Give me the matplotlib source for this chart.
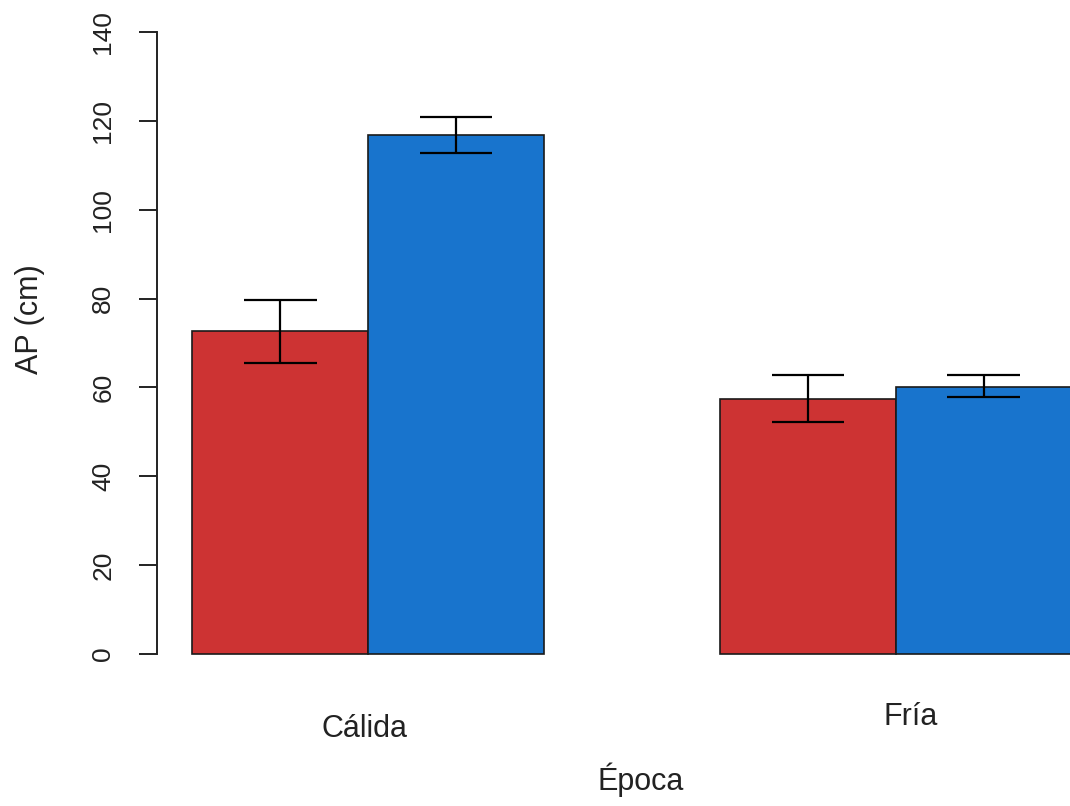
import matplotlib
matplotlib.use("Agg")
import matplotlib.pyplot as plt
import matplotlib.transforms as mtransforms
import numpy as np

# ---- data ----
seasons = ["Cálida", "Fría"]
series_colors = ["#CD3333", "#1874CD"]
means_red = [72.6, 57.5]
means_blue = [116.8, 60.2]
lower_red = [65.4, 52.2]
upper_red = [79.7, 62.8]
lower_blue = [112.7, 57.9]
upper_blue = [120.8, 62.8]
y_ticks = [0, 20, 40, 60, 80, 100, 120, 140]
x_title = "Época"
y_title = "AP (cm)"

plt.rcParams['font.family'] = ['Liberation Sans', 'DejaVu Sans']

W, H = 1070, 806
fig = plt.figure(figsize=(W / 100, H / 100), dpi=100)
# plot region in pixels: x 157..1107 (extends past the image), y 7..679
ax = fig.add_axes([157 / W, (H - 679) / H, 950 / W, 672 / H])
ax.set_xlim(0.8, 6.2)
ax.set_ylim(-5.6, 145.6)

# R barplot, beside=TRUE, space=c(0,1)
n = len(seasons)
left_red = np.array([1 + 3 * i for i in range(n)], dtype=float)
left_blue = left_red + 1
ax.bar(left_red, means_red, width=1, align='edge', color=series_colors[0],
       edgecolor='#1a1a1a', linewidth=1.2, zorder=2)
ax.bar(left_blue, means_blue, width=1, align='edge', color=series_colors[1],
       edgecolor='#1a1a1a', linewidth=1.2, zorder=2)

cap = 0.207
for xs, lo, hi in [(left_red + 0.5, lower_red, upper_red),
                   (left_blue + 0.5, lower_blue, upper_blue)]:
    for x, l, h in zip(xs, lo, hi):
        ax.plot([x, x], [l, h], color='black', lw=1.6, zorder=3, solid_capstyle='butt')
        ax.plot([x - cap, x + cap], [l, l], color='black', lw=1.6, zorder=3, solid_capstyle='butt')
        ax.plot([x - cap, x + cap], [h, h], color='black', lw=1.6, zorder=3, solid_capstyle='butt')

for s in ['top', 'right', 'bottom']:
    ax.spines[s].set_visible(False)
ax.spines['left'].set_bounds(y_ticks[0], y_ticks[-1])
ax.spines['left'].set_linewidth(1.4)
ax.spines['left'].set_color('#222222')
ax.set_yticks(y_ticks)
ax.set_yticklabels([str(t) for t in y_ticks], rotation=90, va='center',
                   fontsize=19, color='#222222')
ax.tick_params(axis='y', length=13, width=1.4, pad=17, color='#222222')
ax.set_xticks([])

# category labels under groups
centers = left_red + 1
label_offsets = [(-4, -58), (15, -46)]  # pixel offsets (x, baseline y below axes bottom)
for c, lab, (dx, dy) in zip(centers, seasons, label_offsets):
    tr = mtransforms.offset_copy(
        mtransforms.blended_transform_factory(ax.transData, ax.transAxes),
        fig=fig, x=dx, y=dy, units='dots')
    ax.text(c, 0, lab, transform=tr, ha='center', va='baseline', fontsize=22,
            color='#222222')

fig.text(641 / W, (H - 790) / H, x_title, ha='center', va='baseline', fontsize=22,
         color='#222222')
fig.text(30 / W, (H - 319) / H, y_title, ha='center', va='center', rotation=90,
         fontsize=22, color='#222222')

fig.savefig("out.png", dpi=100)
